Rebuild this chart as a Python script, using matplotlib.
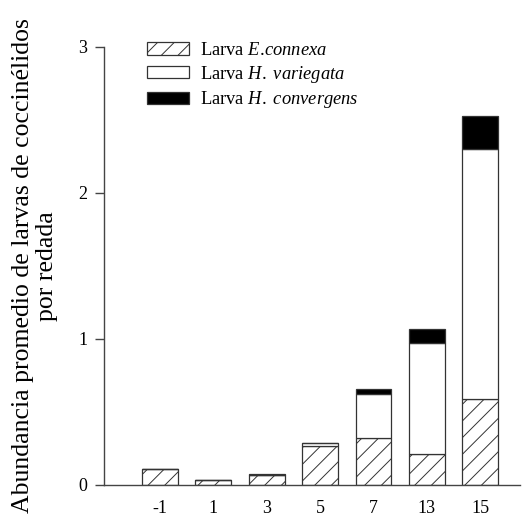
import matplotlib
matplotlib.use('Agg')
import matplotlib.pyplot as plt

plt.rcParams['font.family'] = ['Liberation Serif', 'DejaVu Serif']
plt.rcParams['mathtext.fontset'] = 'custom'
plt.rcParams['mathtext.rm'] = 'Liberation Serif'
plt.rcParams['mathtext.it'] = 'Liberation Serif:italic'
plt.rcParams['hatch.linewidth'] = 0.7
plt.rcParams['hatch.color'] = '#333333'

dias = ['-1', '1', '3', '5', '7', '13', '15']
connexa = [0.11, 0.034, 0.07, 0.265, 0.325, 0.215, 0.59]
variegata = [0.0, 0.0, 0.0, 0.02, 0.30, 0.76, 1.71]
convergens = [0.0, 0.0, 0.004, 0.0, 0.03, 0.095, 0.225]

etiquetas = [r'Larva $\mathit{E.\!connexa}$',
             r'Larva $\mathit{H.\ variegata}$',
             r'Larva $\mathit{H.\ convergens}$']

fig = plt.figure(figsize=(5.24, 5.25), dpi=100)
ax = fig.add_axes([0.1985, 0.0762, 0.794, 0.8343])

x = range(len(dias))
w = 0.67
edge = '#333333'
base2 = [a + b for a, b in zip(connexa, variegata)]

ax.bar(x, connexa, w, color='white', edgecolor=edge, hatch='//', lw=0.9, label=etiquetas[0])
ax.bar(x, variegata, w, bottom=connexa, color='white', edgecolor=edge, lw=0.9, label=etiquetas[1])
ax.bar(x, convergens, w, bottom=base2, color='black', edgecolor=edge, lw=0.9, label=etiquetas[2])

ax.set_xlim(-1.05, 6.75)
ax.set_ylim(0, 3)
ax.set_yticks([0, 1, 2, 3])
ax.set_xticks(list(x))
ax.set_xticklabels(dias)

for s in ['top', 'right']:
    ax.spines[s].set_visible(False)
for s in ['left', 'bottom']:
    ax.spines[s].set_color('#444444')
    ax.spines[s].set_linewidth(1)

ax.tick_params(axis='y', direction='out', length=6.5, width=1, color='#444444', pad=5.5, labelsize=13)
ax.tick_params(axis='x', length=0, pad=11, labelsize=13)

ax.set_ylabel('Abundancia promedio de larvas de coccinélidos\npor redada', fontsize=18.5, linespacing=1.15)
ax.yaxis.set_label_coords(-0.11, 0.5)

ax.legend(loc='upper left', bbox_to_anchor=(0.2805, 0.92), bbox_transform=fig.transFigure,
          frameon=False, fontsize=13.3, handlelength=2.3, handleheight=0.65,
          handletextpad=0.55, labelspacing=0.25, borderpad=0, borderaxespad=0)

fig.savefig('out.png', dpi=100)
